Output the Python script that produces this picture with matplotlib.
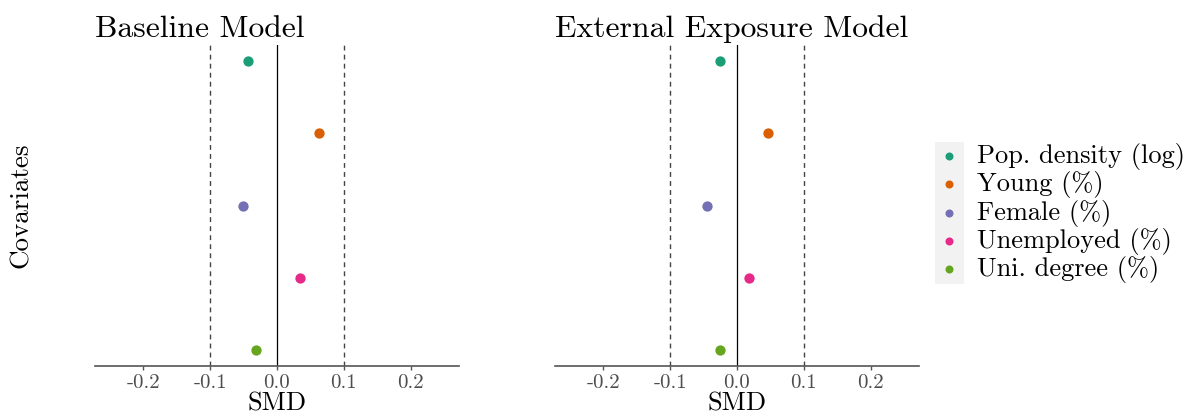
import matplotlib
matplotlib.use("Agg")
import matplotlib.pyplot as plt
from matplotlib.patches import Rectangle

plt.rcParams['font.family'] = ['cmr10', 'DejaVu Serif']
plt.rcParams['axes.unicode_minus'] = False
plt.rcParams['mathtext.fontset'] = 'cm'

covariates = ["Pop. density (log)", "Young (%)", "Female (%)", "Unemployed (%)", "Uni. degree (%)"]
colors = ["#1B9E77", "#D95F02", "#7570B3", "#E7298A", "#66A61E"]
baseline_smd = [-0.043, 0.063, -0.051, 0.034, -0.032]
external_smd = [-0.025, 0.046, -0.045, 0.018, -0.026]
panel_titles = ["Baseline Model", "External Exposure Model"]
xticks = [-0.2, -0.1, 0.0, 0.1, 0.2]
xtick_labels = ["-0.2", "-0.1", "0.0", "0.1", "0.2"]

W, H = 1199, 417
fig = plt.figure(figsize=(W / 100, H / 100), dpi=100)

def ax_rect(x0, x1, y0, y1):
    return [x0 / W, 1 - y1 / H, (x1 - x0) / W, (y1 - y0) / H]

axes = [fig.add_axes(ax_rect(95, 459, 45, 366)), fig.add_axes(ax_rect(555, 919, 45, 366))]
ypos = list(range(1, len(covariates) + 1))

handles = []
for ax, title, vals in zip(axes, panel_titles, [baseline_smd, external_smd]):
    ax.axvline(0, color="black", lw=0.9, zorder=1)
    for v in (-0.1, 0.1):
        ax.axvline(v, color="#444444", lw=1.0, ls=(0, (3.5, 3)), zorder=1)
    handles = []
    for y, v, c, lab in zip(ypos, vals, colors, covariates):
        h = ax.scatter([v], [y], s=55, color=c, zorder=3, label=lab, linewidths=0)
        handles.append(h)
    ax.set_xlim(-0.272, 0.272)
    ax.set_ylim(5.22, 0.78)
    ax.set_xticks(xticks)
    ax.set_xticklabels(xtick_labels)
    ax.set_yticks([])
    for s in ("top", "right", "left"):
        ax.spines[s].set_visible(False)
    ax.spines["bottom"].set_color("#555555")
    ax.spines["bottom"].set_linewidth(1.2)
    ax.tick_params(axis="x", colors="#555555", labelcolor="#4D4D4D", labelsize=15,
                   length=3, width=1, pad=3)
    ax.set_xlabel("SMD", fontsize=19, color="black", labelpad=0)
    ax.set_title(title, fontsize=22.8, loc="left", pad=6, color="black")

fig.text(21 / W, 1 - 205 / H, "Covariates", rotation=90, fontsize=19.5, ha="center", va="center")

leg = fig.legend(handles=handles, labels=covariates, loc="center left",
                 bbox_to_anchor=(923 / W, 1 - 213 / H), frameon=False, fontsize=19,
                 handletextpad=0.55, labelspacing=0.05, borderpad=0.0, handlelength=1.0,
                 markerscale=0.78)
leg.set_zorder(5)

fig.patches.append(Rectangle((935 / W, 1 - 284 / H), (964 - 935) / W, (284 - 142) / H,
                             transform=fig.transFigure, facecolor="#F2F2F2", edgecolor="none", zorder=0))

fig.savefig("out.png", dpi=100)
